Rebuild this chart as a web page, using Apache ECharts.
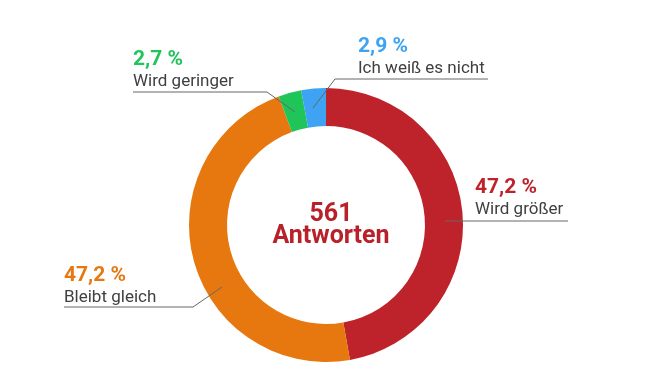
<!DOCTYPE html>
<html><head><meta charset="utf-8">
<script src="https://cdn.jsdelivr.net/npm/echarts@6/dist/echarts.min.js"></script>
<style>html,body{margin:0;padding:0;background:#fff}#c{width:670px;height:390px}</style>
</head><body><div id="c"></div>
<script>
const categories = ['Wird größer', 'Bleibt gleich', 'Wird geringer', 'Ich weiß es nicht'];
const values = [47.2, 47.2, 2.7, 2.9];
const percentLabels = ['47,2 %', '47,2 %', '2,7 %', '2,9 %'];
const colors = ['#BE222B', '#E6780F', '#20C55A', '#3DA3F2'];
const totalAnswers = 561;
const centerWord = 'Antworten';

// label placement (layout, not data)
const labelPos = [
  {x: 475, y: 177, line: [[445, 221], [475, 221], [568, 221]]},
  {x: 64, y: 265, line: [[222, 287], [193, 307], [64, 307]]},
  {x: 133, y: 49, line: [[295, 112], [267, 92], [133, 92]]},
  {x: 358, y: 36, line: [[313, 108], [335, 79], [488, 79]]}
];

const chart = echarts.init(document.getElementById('c'));
const ringData = categories.map((c, i) => ({
  name: c, value: values[i], itemStyle: {color: colors[i]}
}));
const labelData = categories.map((c, i) => ({
  name: c, value: values[i],
  itemStyle: {color: 'rgba(0,0,0,0)'},
  label: {
    formatter: '{p|' + percentLabels[i] + '}\n{n|' + c + '}',
    rich: {
      p: {fontFamily: 'Roboto', fontWeight: 'bold', fontSize: 21, color: colors[i], lineHeight: 22},
      n: {fontFamily: 'Roboto', fontSize: 17, color: '#404040', lineHeight: 22}
    }
  }
}));

chart.setOption({
  animation: false,
  title: {
    text: '{a|' + totalAnswers + '}\n{a|' + centerWord + '}',
    left: 326, top: 199, textAlign: 'center',
    textStyle: {rich: {a: {fontFamily: 'Roboto', fontWeight: 'bold', fontSize: 25, color: '#B8202A', lineHeight: 22, align: 'center'}}}
  },
  series: [{
    type: 'pie',
    z: 2,
    center: [326, 225],
    radius: [99, 137],
    startAngle: 90,
    clockwise: true,
    label: {show: false},
    labelLine: {show: false},
    silent: true,
    data: ringData
  }, {
    type: 'pie',
    z: 5,
    center: [326, 225],
    radius: [99, 137],
    startAngle: 90,
    clockwise: true,
    avoidLabelOverlap: false,
    silent: true,
    label: {show: true, position: 'outside', align: 'left'},
    labelLine: {show: true, length: 10, length2: 10, lineStyle: {color: '#666666', width: 1}},
    labelLayout: function (params) {
      const p = labelPos[params.dataIndex];
      return {x: p.x, y: p.y, align: 'left', verticalAlign: 'top', labelLinePoints: p.line};
    },
    data: labelData
  }]
});
</script>
</body></html>
